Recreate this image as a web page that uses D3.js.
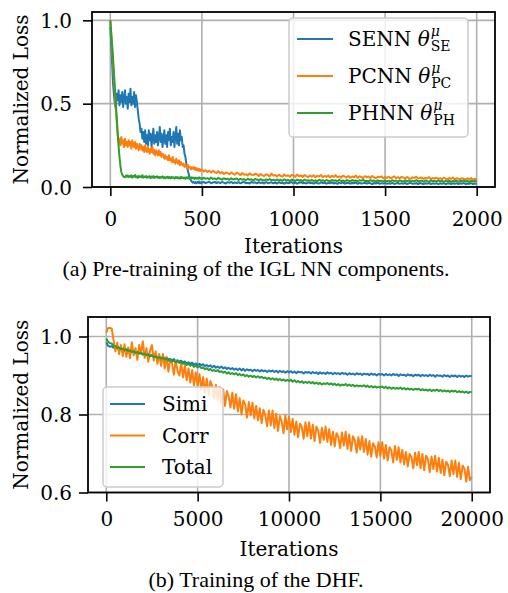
<!DOCTYPE html>
<html>
<head>
<meta charset="utf-8">
<script src="https://cdn.jsdelivr.net/npm/d3@7"></script>
<style>
  body { margin: 0; background: #fff; }
  text { font-family: "DejaVu Serif"; fill: #000; }
</style>
</head>
<body>
<svg id="fig" width="508" height="593"></svg>
<script>
"use strict";

// ---- (a) pre-training: every 5 iterations up to 495, then every 10 up to 2000 ----
const preIter = d3.range(0, 500, 5).concat(d3.range(500, 2001, 10));

const senn = [
  // 0 - 495 (step 5)
  0.96, 0.85, 0.74, 0.62, 0.55, 0.50, 0.47, 0.56, 0.52, 0.58,
  0.49, 0.55, 0.51, 0.57, 0.48, 0.53, 0.58, 0.50, 0.54, 0.47,
  0.56, 0.51, 0.59, 0.49, 0.54, 0.50, 0.57, 0.48, 0.55, 0.51,
  0.46, 0.41, 0.38, 0.33, 0.35, 0.29, 0.33, 0.27, 0.34, 0.26,
  0.31, 0.25, 0.34, 0.28, 0.32, 0.24, 0.30, 0.35, 0.26, 0.31,
  0.27, 0.33, 0.25, 0.30, 0.36, 0.27, 0.32, 0.24, 0.29, 0.34,
  0.26, 0.31, 0.24, 0.33, 0.28, 0.35, 0.25, 0.30, 0.27, 0.33,
  0.24, 0.31, 0.36, 0.26, 0.32, 0.25, 0.34, 0.28, 0.30, 0.24,
  0.25, 0.20, 0.18, 0.14, 0.12, 0.09, 0.07, 0.05, 0.04, 0.032,
  0.026, 0.031, 0.024, 0.029, 0.022, 0.030, 0.025, 0.033, 0.023, 0.028,
  // 500 - 2000 (step 10)
  0.025, 0.031, 0.023, 0.028, 0.032, 0.022, 0.027, 0.030, 0.024, 0.029,
  0.023, 0.030, 0.026, 0.021, 0.029, 0.025, 0.031, 0.022, 0.028, 0.024,
  0.029, 0.022, 0.027, 0.031, 0.023, 0.026, 0.021, 0.030, 0.025, 0.028,
  0.022, 0.029, 0.024, 0.027, 0.021, 0.030, 0.023, 0.026, 0.028, 0.022,
  0.027, 0.021, 0.029, 0.024, 0.026, 0.020, 0.028, 0.023, 0.025, 0.029,
  0.022, 0.027, 0.020, 0.026, 0.029, 0.023, 0.025, 0.021, 0.028, 0.024,
  0.026, 0.020, 0.027, 0.023, 0.021, 0.028, 0.024, 0.026, 0.020, 0.025,
  0.023, 0.027, 0.021, 0.025, 0.019, 0.026, 0.022, 0.028, 0.020, 0.024,
  0.026, 0.020, 0.024, 0.022, 0.027, 0.019, 0.025, 0.021, 0.023, 0.026,
  0.020, 0.025, 0.022, 0.018, 0.024, 0.021, 0.026, 0.019, 0.023, 0.021,
  0.024, 0.019, 0.023, 0.020, 0.025, 0.018, 0.022, 0.024, 0.019, 0.023,
  0.020, 0.024, 0.018, 0.022, 0.025, 0.019, 0.021, 0.023, 0.018, 0.024,
  0.021, 0.017, 0.023, 0.020, 0.024, 0.018, 0.022, 0.019, 0.023, 0.017,
  0.022, 0.019, 0.024, 0.017, 0.021, 0.023, 0.018, 0.022, 0.019, 0.023,
  0.018, 0.022, 0.020, 0.024, 0.017, 0.021, 0.019, 0.023, 0.018, 0.021,
  0.020
];

const pcnn = [
  1.00, 0.92, 0.83, 0.74, 0.65, 0.56, 0.47, 0.39, 0.31, 0.27,
  0.29, 0.25, 0.30, 0.26, 0.28, 0.24, 0.29, 0.25, 0.27, 0.24,
  0.28, 0.25, 0.27, 0.23, 0.28, 0.25, 0.24, 0.27, 0.23, 0.26,
  0.24, 0.22, 0.26, 0.23, 0.25, 0.22, 0.24, 0.21, 0.25, 0.22,
  0.21, 0.24, 0.22, 0.20, 0.23, 0.21, 0.24, 0.20, 0.22, 0.19,
  0.22, 0.20, 0.19, 0.22, 0.19, 0.21, 0.18, 0.20, 0.19, 0.17,
  0.19, 0.17, 0.18, 0.16, 0.19, 0.16, 0.17, 0.15, 0.18, 0.15,
  0.16, 0.14, 0.17, 0.15, 0.14, 0.16, 0.13, 0.15, 0.14, 0.13,
  0.14, 0.12, 0.135, 0.125, 0.11, 0.13, 0.115, 0.12, 0.105, 0.118,
  0.11, 0.12, 0.104, 0.115, 0.10, 0.112, 0.098, 0.108, 0.095, 0.105,
  0.104, 0.093, 0.101, 0.090, 0.098, 0.086, 0.097, 0.089, 0.084, 0.095,
  0.081, 0.090, 0.078, 0.087, 0.084, 0.076, 0.088, 0.079, 0.074, 0.086,
  0.080, 0.071, 0.084, 0.073, 0.077, 0.069, 0.082, 0.074, 0.070, 0.079,
  0.076, 0.066, 0.078, 0.070, 0.065, 0.077, 0.071, 0.064, 0.080, 0.068,
  0.072, 0.063, 0.074, 0.067, 0.062, 0.075, 0.066, 0.070, 0.061, 0.073,
  0.068, 0.061, 0.075, 0.064, 0.070, 0.060, 0.072, 0.065, 0.059, 0.069,
  0.062, 0.071, 0.058, 0.067, 0.063, 0.072, 0.059, 0.066, 0.061, 0.069,
  0.057, 0.067, 0.060, 0.071, 0.058, 0.064, 0.056, 0.068, 0.062, 0.057,
  0.066, 0.056, 0.063, 0.058, 0.069, 0.055, 0.064, 0.060, 0.054, 0.065,
  0.058, 0.063, 0.054, 0.066, 0.057, 0.053, 0.062, 0.058, 0.064, 0.052,
  0.060, 0.054, 0.062, 0.052, 0.058, 0.064, 0.053, 0.059, 0.051, 0.061,
  0.056, 0.050, 0.060, 0.053, 0.049, 0.058, 0.054, 0.062, 0.050, 0.055,
  0.057, 0.049, 0.055, 0.051, 0.059, 0.047, 0.054, 0.050, 0.056, 0.048,
  0.053, 0.047, 0.056, 0.050, 0.046, 0.054, 0.049, 0.057, 0.045, 0.052,
  0.050, 0.045, 0.053, 0.048, 0.044, 0.052, 0.047, 0.054, 0.043, 0.049,
  0.046
];

const phnn = [
  1.00, 0.92, 0.85, 0.77, 0.68, 0.59, 0.50, 0.42, 0.33, 0.25,
  0.18, 0.13, 0.09, 0.075, 0.065, 0.060, 0.058, 0.068, 0.062, 0.070,
  0.059, 0.066, 0.061, 0.070, 0.056, 0.066, 0.062, 0.072, 0.058, 0.064,
  0.055, 0.066, 0.060, 0.064, 0.058, 0.071, 0.056, 0.063, 0.059, 0.066,
  0.056, 0.063, 0.058, 0.065, 0.053, 0.062, 0.058, 0.066, 0.054, 0.061,
  0.057, 0.064, 0.055, 0.061, 0.053, 0.060, 0.057, 0.064, 0.054, 0.059,
  0.052, 0.060, 0.055, 0.062, 0.053, 0.059, 0.051, 0.061, 0.055, 0.058,
  0.050, 0.059, 0.054, 0.060, 0.052, 0.057, 0.050, 0.061, 0.053, 0.058,
  0.052, 0.057, 0.049, 0.058, 0.052, 0.060, 0.051, 0.055, 0.049, 0.058,
  0.052, 0.056, 0.048, 0.057, 0.051, 0.055, 0.049, 0.058, 0.050, 0.054,
  0.047, 0.056, 0.049, 0.053, 0.046, 0.057, 0.048, 0.052, 0.045, 0.055,
  0.049, 0.044, 0.053, 0.046, 0.050, 0.043, 0.052, 0.045, 0.048, 0.051,
  0.042, 0.049, 0.044, 0.047, 0.041, 0.050, 0.043, 0.046, 0.040, 0.048,
  0.045, 0.040, 0.047, 0.042, 0.039, 0.046, 0.041, 0.048, 0.040, 0.044,
  0.038, 0.045, 0.040, 0.043, 0.037, 0.046, 0.039, 0.042, 0.036, 0.044,
  0.041, 0.036, 0.044, 0.039, 0.042, 0.035, 0.045, 0.038, 0.041, 0.037,
  0.043, 0.036, 0.040, 0.034, 0.044, 0.038, 0.041, 0.035, 0.042, 0.037,
  0.035, 0.042, 0.037, 0.040, 0.034, 0.043, 0.036, 0.039, 0.033, 0.041,
  0.039, 0.034, 0.042, 0.036, 0.040, 0.033, 0.041, 0.037, 0.043, 0.035,
  0.038, 0.033, 0.041, 0.036, 0.039, 0.032, 0.040, 0.035, 0.038, 0.034,
  0.040, 0.034, 0.038, 0.033, 0.041, 0.035, 0.039, 0.032, 0.040, 0.036,
  0.033, 0.039, 0.035, 0.040, 0.032, 0.038, 0.034, 0.041, 0.033, 0.037,
  0.038, 0.032, 0.039, 0.035, 0.031, 0.040, 0.034, 0.037, 0.032, 0.039,
  0.034, 0.038, 0.031, 0.037, 0.033, 0.039, 0.031, 0.036, 0.034, 0.038,
  0.031, 0.037, 0.034, 0.039, 0.032, 0.036, 0.030, 0.038, 0.033, 0.036,
  0.034
];

const preNames = ["SENN", "PCNN", "PHNN"];
const preSubs = ["SE", "PC", "PH"];
const preXTicks = [0, 500, 1000, 1500, 2000];
const preYTicks = [0.0, 0.5, 1.0];

// ---- (b) DHF training, every 100 iterations (0..20000) ----
const dhfIter = d3.range(0, 20001, 100);

const simi = [
  0.985, 0.976, 0.974, 0.975, 0.971, 0.972, 0.969, 0.970, 0.966, 0.968,
  0.964, 0.967, 0.962, 0.965, 0.961, 0.963, 0.958, 0.961, 0.957, 0.959,
  0.954, 0.957, 0.953, 0.956, 0.951, 0.953, 0.948, 0.952, 0.947, 0.949,
  0.944, 0.948, 0.943, 0.946, 0.941, 0.943, 0.938, 0.942, 0.937, 0.939,
  0.935, 0.938, 0.933, 0.936, 0.931, 0.934, 0.930, 0.933, 0.928, 0.931,
  0.927, 0.930, 0.926, 0.929, 0.924, 0.927, 0.923, 0.926, 0.921, 0.925,
  0.920, 0.923, 0.919, 0.923, 0.918, 0.921, 0.917, 0.920, 0.916, 0.919,
  0.915, 0.918, 0.914, 0.918, 0.913, 0.917, 0.912, 0.916, 0.913, 0.915,
  0.911, 0.915, 0.912, 0.914, 0.910, 0.914, 0.911, 0.913, 0.909, 0.913,
  0.910, 0.913, 0.909, 0.912, 0.908, 0.912, 0.909, 0.911, 0.907, 0.911,
  0.908, 0.911, 0.907, 0.910, 0.906, 0.910, 0.908, 0.909, 0.905, 0.909,
  0.907, 0.909, 0.905, 0.909, 0.906, 0.908, 0.904, 0.908, 0.905, 0.907,
  0.904, 0.908, 0.905, 0.907, 0.903, 0.907, 0.904, 0.906, 0.903, 0.907,
  0.904, 0.906, 0.902, 0.906, 0.903, 0.905, 0.902, 0.906, 0.903, 0.905,
  0.901, 0.905, 0.903, 0.904, 0.901, 0.905, 0.902, 0.904, 0.900, 0.904,
  0.902, 0.904, 0.900, 0.904, 0.901, 0.903, 0.900, 0.904, 0.901, 0.903,
  0.899, 0.903, 0.901, 0.902, 0.899, 0.903, 0.900, 0.902, 0.898, 0.902,
  0.900, 0.902, 0.898, 0.902, 0.899, 0.901, 0.898, 0.902, 0.899, 0.901,
  0.897, 0.901, 0.899, 0.900, 0.897, 0.901, 0.898, 0.900, 0.896, 0.900,
  0.898, 0.900, 0.896, 0.900, 0.897, 0.899, 0.896, 0.900, 0.897, 0.899,
  0.898
];

const corr = [
  1.010, 1.022, 1.022, 1.020, 0.990, 0.962, 0.984, 0.955, 0.978, 0.950,
  0.980, 0.948, 0.972, 0.944, 0.985, 0.952, 0.970, 0.940, 0.978, 0.955,
  0.988, 0.945, 0.970, 0.935, 0.965, 0.978, 0.938, 0.962, 0.930, 0.955,
  0.925, 0.955, 0.918, 0.948, 0.910, 0.942, 0.932, 0.902, 0.938, 0.912,
  0.900, 0.932, 0.895, 0.926, 0.888, 0.918, 0.882, 0.914, 0.875, 0.908,
  0.872, 0.904, 0.864, 0.896, 0.856, 0.892, 0.850, 0.886, 0.872, 0.842,
  0.876, 0.838, 0.870, 0.830, 0.864, 0.822, 0.860, 0.846, 0.818, 0.856,
  0.815, 0.852, 0.808, 0.842, 0.800, 0.836, 0.826, 0.792, 0.832, 0.798,
  0.830, 0.790, 0.822, 0.785, 0.816, 0.778, 0.812, 0.798, 0.770, 0.810,
  0.772, 0.810, 0.765, 0.802, 0.758, 0.796, 0.782, 0.752, 0.798, 0.762,
  0.794, 0.755, 0.789, 0.748, 0.782, 0.742, 0.776, 0.768, 0.738, 0.780,
  0.744, 0.780, 0.738, 0.774, 0.732, 0.769, 0.758, 0.727, 0.766, 0.735,
  0.769, 0.730, 0.762, 0.722, 0.756, 0.718, 0.752, 0.743, 0.714, 0.754,
  0.720, 0.756, 0.712, 0.749, 0.707, 0.744, 0.734, 0.702, 0.742, 0.710,
  0.744, 0.704, 0.737, 0.697, 0.732, 0.692, 0.726, 0.718, 0.690, 0.729,
  0.694, 0.729, 0.687, 0.722, 0.682, 0.716, 0.708, 0.677, 0.719, 0.684,
  0.716, 0.677, 0.709, 0.672, 0.704, 0.667, 0.699, 0.691, 0.662, 0.702,
  0.670, 0.704, 0.662, 0.699, 0.657, 0.694, 0.686, 0.652, 0.692, 0.660,
  0.694, 0.654, 0.689, 0.650, 0.684, 0.644, 0.679, 0.671, 0.642, 0.682,
  0.647, 0.682, 0.640, 0.676, 0.634, 0.669, 0.661, 0.628, 0.666, 0.632,
  0.640
];

const total = [
  0.995, 0.986, 0.983, 0.982, 0.976, 0.975, 0.971, 0.972, 0.968, 0.969,
  0.965, 0.967, 0.963, 0.964, 0.960, 0.962, 0.958, 0.960, 0.956, 0.958,
  0.954, 0.956, 0.952, 0.954, 0.949, 0.952, 0.947, 0.949, 0.945, 0.947,
  0.943, 0.946, 0.941, 0.943, 0.938, 0.941, 0.936, 0.938, 0.933, 0.936,
  0.932, 0.935, 0.930, 0.932, 0.927, 0.930, 0.925, 0.928, 0.922, 0.925,
  0.921, 0.924, 0.919, 0.921, 0.916, 0.919, 0.914, 0.917, 0.912, 0.914,
  0.911, 0.914, 0.909, 0.911, 0.907, 0.910, 0.905, 0.908, 0.904, 0.906,
  0.903, 0.906, 0.901, 0.904, 0.900, 0.903, 0.898, 0.901, 0.897, 0.900,
  0.896, 0.899, 0.895, 0.898, 0.894, 0.897, 0.893, 0.895, 0.891, 0.894,
  0.890, 0.893, 0.889, 0.892, 0.888, 0.891, 0.887, 0.890, 0.886, 0.889,
  0.886, 0.889, 0.884, 0.888, 0.883, 0.886, 0.882, 0.885, 0.881, 0.884,
  0.881, 0.884, 0.880, 0.883, 0.879, 0.882, 0.878, 0.881, 0.877, 0.880,
  0.878, 0.881, 0.877, 0.880, 0.876, 0.879, 0.875, 0.878, 0.874, 0.877,
  0.875, 0.878, 0.874, 0.877, 0.873, 0.876, 0.872, 0.875, 0.872, 0.874,
  0.872, 0.875, 0.871, 0.874, 0.870, 0.873, 0.869, 0.872, 0.869, 0.871,
  0.869, 0.872, 0.868, 0.871, 0.867, 0.870, 0.866, 0.869, 0.866, 0.868,
  0.866, 0.869, 0.865, 0.868, 0.864, 0.867, 0.864, 0.866, 0.863, 0.866,
  0.864, 0.866, 0.862, 0.865, 0.862, 0.864, 0.861, 0.864, 0.860, 0.863,
  0.861, 0.864, 0.860, 0.863, 0.859, 0.862, 0.859, 0.861, 0.858, 0.861,
  0.859, 0.861, 0.857, 0.860, 0.857, 0.859, 0.856, 0.859, 0.855, 0.858,
  0.857
];

const dhfNames = ["Simi", "Corr", "Total"];
const dhfXTicks = [0, 5000, 10000, 15000, 20000];
const dhfYTicks = [0.6, 0.8, 1.0];

const COLORS = ["#1f77b4", "#ff7f0e", "#2ca02c"];

const svg = d3.select("#fig");

function drawPanel(p) {
  const x = d3.scaleLinear().domain(p.xDomain).range([p.left, p.right]);
  const y = d3.scaleLinear().domain(p.yDomain).range([p.bottom, p.top]);
  const g = svg.append("g");

  svg.append("clipPath").attr("id", p.id + "-clip")
    .append("rect")
    .attr("x", p.left).attr("y", p.top)
    .attr("width", p.right - p.left).attr("height", p.bottom - p.top);

  // grid
  g.selectAll(".vgrid").data(p.xTicks).enter().append("line")
    .attr("x1", d => x(d)).attr("x2", d => x(d))
    .attr("y1", p.top).attr("y2", p.bottom)
    .attr("stroke", "#b0b0b0").attr("stroke-width", 1.6);
  g.selectAll(".hgrid").data(p.yTicks).enter().append("line")
    .attr("y1", d => y(d)).attr("y2", d => y(d))
    .attr("x1", p.left).attr("x2", p.right)
    .attr("stroke", "#b0b0b0").attr("stroke-width", 1.6);

  // curves
  const line = d3.line()
    .x((d, i) => x(p.iters[i]))
    .y(d => y(d));
  const plot = g.append("g").attr("clip-path", `url(#${p.id}-clip)`);
  p.series.forEach((s, k) => {
    plot.append("path")
      .datum(s)
      .attr("d", line)
      .attr("fill", "none")
      .attr("stroke", COLORS[k])
      .attr("stroke-width", 2)
      .attr("stroke-linejoin", "round");
  });

  // axes
  const xAxis = g.append("g")
    .attr("transform", `translate(0,${p.bottom})`)
    .call(d3.axisBottom(x).tickValues(p.xTicks).tickFormat(d3.format("d")).tickSize(9));
  const yAxis = g.append("g")
    .attr("transform", `translate(${p.left},0)`)
    .call(d3.axisLeft(y).tickValues(p.yTicks).tickFormat(d3.format(".1f")).tickSize(9));
  [xAxis, yAxis].forEach(a => {
    a.select(".domain").remove();
    a.selectAll("line").attr("stroke", "#000").attr("stroke-width", 1.6);
    a.selectAll("text")
      .style("font-family", "DejaVu Serif")
      .style("font-size", "20px")
      .attr("fill", "#000");
  });
  xAxis.selectAll("text").attr("y", p.xTickBaseline - p.bottom).attr("dy", null);
  yAxis.selectAll("text").attr("x", p.yTickRight - p.left).attr("dy", "0.36em");

  // spines
  g.append("rect")
    .attr("x", p.left).attr("y", p.top)
    .attr("width", p.right - p.left).attr("height", p.bottom - p.top)
    .attr("fill", "none").attr("stroke", "#000").attr("stroke-width", 1.8);

  // axis labels
  g.append("text")
    .attr("x", (p.left + p.right) / 2).attr("y", p.xLabelBaseline)
    .attr("text-anchor", "middle").style("font-size", "20px")
    .text("Iterations");
  g.append("text")
    .attr("transform", `translate(${p.yLabelX},${(p.top + p.bottom) / 2}) rotate(-90)`)
    .attr("text-anchor", "middle").style("font-size", "20px")
    .text("Normalized Loss");

  // caption
  svg.append("text")
    .attr("x", 256).attr("y", p.captionBaseline)
    .attr("text-anchor", "middle")
    .style("font-family", "Liberation Serif").style("font-size", "22px")
    .text(p.caption);

  // legend
  const L = p.legend;
  const lg = g.append("g");
  lg.append("rect")
    .attr("x", L.x).attr("y", L.y).attr("width", L.w).attr("height", L.h)
    .attr("rx", 4).attr("fill", "#fff").attr("fill-opacity", 0.8)
    .attr("stroke", "#cccccc").attr("stroke-width", 1.5);
  p.names.forEach((name, k) => {
    const cy = L.firstRow + k * L.rowGap;
    lg.append("line")
      .attr("x1", L.x + L.handleX0).attr("x2", L.x + L.handleX1)
      .attr("y1", cy).attr("y2", cy)
      .attr("stroke", COLORS[k]).attr("stroke-width", 2);
    const t = lg.append("text")
      .attr("x", L.x + L.textX).attr("y", cy + 7)
      .style("font-size", "20px");
    t.append("tspan").text(name);
    if (p.subs) {
      t.append("tspan").text("\u00a0");
      t.append("tspan").style("font-style", "italic").text("\u03b8");
      const endX = L.x + L.textX + t.node().getComputedTextLength() + 1;
      lg.append("text")
        .attr("x", endX).attr("y", cy - 3)
        .style("font-size", "14px").style("font-style", "italic")
        .text("\u03bc");
      lg.append("text")
        .attr("x", endX).attr("y", cy + 12)
        .style("font-size", "14px")
        .text(p.subs[k]);
    }
  });
}

drawPanel({
  id: "pre",
  left: 92, right: 495, top: 12, bottom: 187,
  xDomain: [-100, 2100], yDomain: [0, 1.05],
  xTicks: preXTicks, yTicks: preYTicks,
  iters: preIter, series: [senn, pcnn, phnn],
  names: preNames, subs: preSubs,
  xTickBaseline: 226, yTickRight: 72,
  xLabelBaseline: 253, yLabelX: 28,
  caption: "(a) Pre-training of the IGL NN components.",
  captionBaseline: 276,
  legend: { x: 289, y: 18, w: 179, h: 119, firstRow: 39, rowGap: 37,
            handleX0: 8, handleX1: 44, textX: 59 }
});

drawPanel({
  id: "dhf",
  left: 88, right: 490, top: 317, bottom: 492.5,
  xDomain: [-1000, 21000], yDomain: [0.6, 1.05],
  xTicks: dhfXTicks, yTicks: dhfYTicks,
  iters: dhfIter, series: [simi, corr, total],
  names: dhfNames, subs: null,
  xTickBaseline: 526, yTickRight: 72,
  xLabelBaseline: 556, yLabelX: 28,
  caption: "(b) Training of the DHF.",
  captionBaseline: 587,
  legend: { x: 103, y: 387, w: 120, h: 100, firstRow: 404, rowGap: 31.5,
            handleX0: 7, handleX1: 42, textX: 59 }
});
</script>
</body>
</html>
